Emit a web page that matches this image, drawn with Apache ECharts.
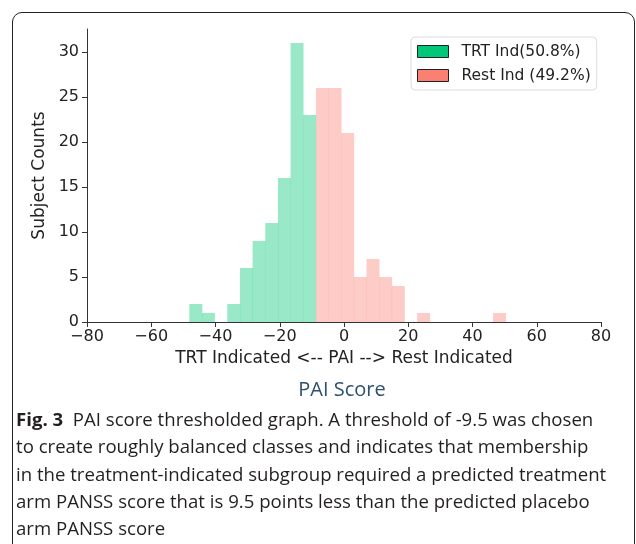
<!DOCTYPE html>
<html>
<head>
<meta charset="utf-8">
<script src="https://cdn.jsdelivr.net/npm/echarts@6/dist/echarts.min.js"></script>
<style>
  html, body { margin: 0; padding: 0; background: #fff; }
  #wrap { position: relative; width: 636px; height: 544px; overflow: hidden; }
  #frame {
    position: absolute; left: 12px; top: 12px; width: 621px; height: 600px;
    border: 1px solid #222; border-radius: 10px;
  }
  #chart { position: absolute; left: 0; top: 0; width: 636px; height: 544px; }
  #title {
    position: absolute; left: 0; width: 684px; top: 375px; text-align: center;
    font-family: "Open Sans", sans-serif; font-size: 20px; color: #2e5070; line-height: 28px;
  }
  #caption {
    position: absolute; left: 16px; top: 405px; white-space: nowrap;
    font-family: "Open Sans", sans-serif; font-size: 18.6px; line-height: 27.3px;
    color: #231f20;
  }
  #caption b { font-weight: 700; }
</style>
</head>
<body>
<div id="wrap">
  <div id="frame"></div>
  <div id="chart"></div>
  <div id="title">PAI Score</div>
  <div id="caption"><b>Fig. 3</b>&nbsp; PAI score thresholded graph. A threshold of -9.5 was chosen<br>to create roughly balanced classes and indicates that membership<br>in the treatment-indicated subgroup required a predicted treatment<br>arm PANSS score that is 9.5 points less than the predicted placebo<br>arm PANSS score</div>
</div>
<script>
// histogram bin edges (PAI score), shared by both groups
const binEdges = [-48.15, -44.21, -40.27, -36.33, -32.39, -28.45, -24.51, -20.57, -16.63, -12.69,
  -8.75, -4.81, -0.87, 3.07, 7.01, 10.95, 14.89, 18.83, 22.77, 26.71,
  30.65, 34.59, 38.53, 42.47, 46.41, 50.35];
// counts for bins 0..9 (treatment indicated)
const trtCounts = [2, 1, 0, 2, 6, 9, 11, 16, 31, 23];
// counts for bins 10..24 (rest indicated)
const restCounts = [26, 26, 21, 5, 7, 5, 4, 0, 1, 0, 0, 0, 0, 0, 1];
const trtFirstBin = 0;
const restFirstBin = 10;

const seriesNames = ["TRT Ind(50.8%)", "Rest Ind (49.2%)"];
const xTicks = [-80, -60, -40, -20, 0, 20, 40, 60, 80];
const yTicks = [0, 5, 10, 15, 20, 25, 30];
const yMax = 32.55;

const FONT = "DejaVu Sans";

function toBins(counts, first) {
  return counts
    .map((c, i) => [binEdges[first + i], binEdges[first + i + 1], c])
    .filter((d) => d[2] > 0);
}

function renderBin(params, api) {
  const p0 = api.coord([api.value(0), api.value(2)]);
  const p1 = api.coord([api.value(1), 0]);
  return {
    type: "rect",
    shape: { x: p0[0], y: p0[1], width: p1[0] - p0[0] + 0.3, height: p1[1] - p0[1] },
    style: { fill: api.visual("color") },
  };
}

const chart = echarts.init(document.getElementById("chart"));
chart.setOption({
  animation: false,
  textStyle: { fontFamily: FONT },
  grid: { left: 87, right: 35, top: 29, bottom: 222 },
  legend: {
    orient: "vertical",
    left: 411,
    top: 37,
    padding: [6, 6, 6, 6],
    itemGap: 7,
    itemWidth: 31,
    itemHeight: 12,
    icon: "rect",
    backgroundColor: "#fff",
    borderColor: "#dcdcdc",
    borderWidth: 1,
    borderRadius: 4,
    textStyle: { fontFamily: FONT, fontSize: 15.5, color: "#222", lineHeight: 17, padding: [0, 0, 0, 8] },
    data: [
      { name: seriesNames[0], itemStyle: { color: "#00c878", borderColor: "#222", borderWidth: 1 } },
      { name: seriesNames[1], itemStyle: { color: "#fa8072", borderColor: "#222", borderWidth: 1 } },
    ],
  },
  xAxis: {
    type: "value",
    min: -80,
    max: 80,
    interval: 20,
    name: "TRT Indicated <-- PAI --> Rest Indicated",
    nameLocation: "middle",
    nameGap: 26,
    nameTextStyle: { fontFamily: FONT, fontSize: 17, color: "#222" },
    axisLine: { show: true, onZero: false, lineStyle: { color: "#333", width: 1 } },
    axisTick: { show: true, length: 5, lineStyle: { color: "#333" } },
    axisLabel: {
      fontFamily: FONT, fontSize: 16, color: "#222", margin: 7,
      customValues: xTicks,
      formatter: (v) => String(v).replace("-", "\u2212"),
    },
    splitLine: { show: false },
  },
  yAxis: {
    type: "value",
    min: 0,
    max: yMax,
    name: "Subject Counts",
    nameLocation: "middle",
    nameGap: 35,
    nameTextStyle: { fontFamily: FONT, fontSize: 17, color: "#222" },
    axisLine: { show: true, onZero: false, lineStyle: { color: "#333", width: 1 } },
    axisTick: { show: true, length: 5, customValues: yTicks, lineStyle: { color: "#333" } },
    axisLabel: { fontFamily: FONT, fontSize: 16, color: "#222", margin: 8, customValues: yTicks },
    splitLine: { show: false },
  },
  series: [
    {
      name: seriesNames[0],
      type: "custom",
      renderItem: renderBin,
      itemStyle: { color: "rgba(0,200,120,0.4)" },
      encode: { x: [0, 1], y: 2 },
      data: toBins(trtCounts, trtFirstBin),
    },
    {
      name: seriesNames[1],
      type: "custom",
      renderItem: renderBin,
      itemStyle: { color: "rgba(250,128,114,0.4)" },
      encode: { x: [0, 1], y: 2 },
      data: toBins(restCounts, restFirstBin),
    },
  ],
});
</script>
</body>
</html>
